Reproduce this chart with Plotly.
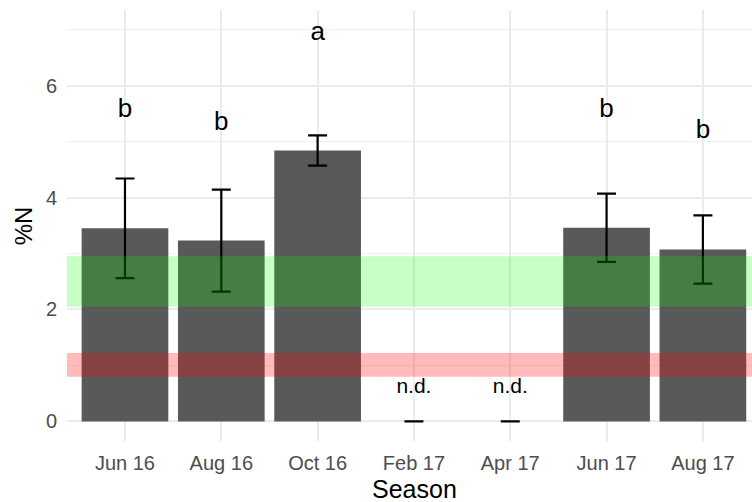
import plotly.graph_objects as go

# Seasonal nitrogen content (%N), mean ± SE
seasons = ["Jun 16", "Aug 16", "Oct 16", "Feb 17", "Apr 17", "Jun 17", "Aug 17"]
mean_n = [3.45, 3.23, 4.84, 0.0, 0.0, 3.46, 3.07]
se_n = [0.89, 0.91, 0.27, 0.0, 0.0, 0.61, 0.61]

# Significance groups and their label heights
group_labels = ["b", "b", "a", "n.d.", "n.d.", "b", "b"]
label_y = [5.56, 5.32, 6.93, 0.60, 0.60, 5.56, 5.18]

# Reference ranges
sufficient_range = (2.05, 2.95)
deficient_range = (0.8, 1.22)

fig = go.Figure()

fig.add_trace(go.Bar(
    x=seasons, y=mean_n, width=0.9,
    marker=dict(color="#595959", line=dict(width=0)),
    error_y=dict(type="data", array=se_n, visible=True,
                 color="black", thickness=2.2, width=9.5),
    showlegend=False,
))

big = [l if l != "n.d." else "" for l in group_labels]
small = [l if l == "n.d." else "" for l in group_labels]
fig.add_trace(go.Scatter(
    x=seasons, y=label_y, mode="text", text=big,
    textposition="middle center",
    textfont=dict(family="Liberation Sans, Arial, sans-serif", size=26, color="black"),
    showlegend=False, hoverinfo="skip",
))
fig.add_trace(go.Scatter(
    x=seasons, y=label_y, mode="text", text=small,
    textposition="middle center",
    textfont=dict(family="Liberation Sans, Arial, sans-serif", size=21, color="black"),
    showlegend=False, hoverinfo="skip",
))

for (lo, hi), col in [(sufficient_range, "rgba(0,255,0,0.22)"),
                      (deficient_range, "rgba(255,0,0,0.27)")]:
    fig.add_shape(type="rect", xref="paper", x0=0, x1=1, yref="y", y0=lo, y1=hi,
                  fillcolor=col, line=dict(width=0), layer="above")

fig.add_annotation(text="%N", xref="paper", yref="paper", x=-0.063, y=0.5,
                   textangle=-90, showarrow=False, xanchor="center", yanchor="middle",
                   font=dict(family="Liberation Sans, Arial, sans-serif", size=24, color="black"))
fig.add_annotation(text="Season", xref="paper", yref="paper", x=0.5066, y=-0.1105,
                   showarrow=False, xanchor="center", yanchor="middle",
                   font=dict(family="Liberation Sans, Arial, sans-serif", size=25, color="black"))

fig.update_layout(
    width=752, height=502,
    margin=dict(l=67, r=0, t=9.6, b=60.7),
    paper_bgcolor="white", plot_bgcolor="white",
    font=dict(family="Liberation Sans, Arial, sans-serif"),
    xaxis=dict(
        type="category", categoryorder="array", categoryarray=seasons,
        range=[-0.602, 6.51], showgrid=True, gridcolor="#ebebeb", gridwidth=1.8,
        showline=False, zeroline=False, ticks="", ticklabelstandoff=8,
        tickfont=dict(size=20, color="#4d4d4d"),
    ),
    yaxis=dict(
        range=[-0.35, 7.35], tickmode="array", tickvals=[0, 2, 4, 6],
        showgrid=True, gridcolor="#ebebeb", gridwidth=1.8,
        minor=dict(tickvals=[1, 3, 5, 7], showgrid=True, gridcolor="#f0f0f0", gridwidth=1.2),
        showline=False, zeroline=False, ticks="", ticklabelstandoff=9,
        tickfont=dict(size=20, color="#4d4d4d"),
    ),
)

fig.write_html("out.html")
